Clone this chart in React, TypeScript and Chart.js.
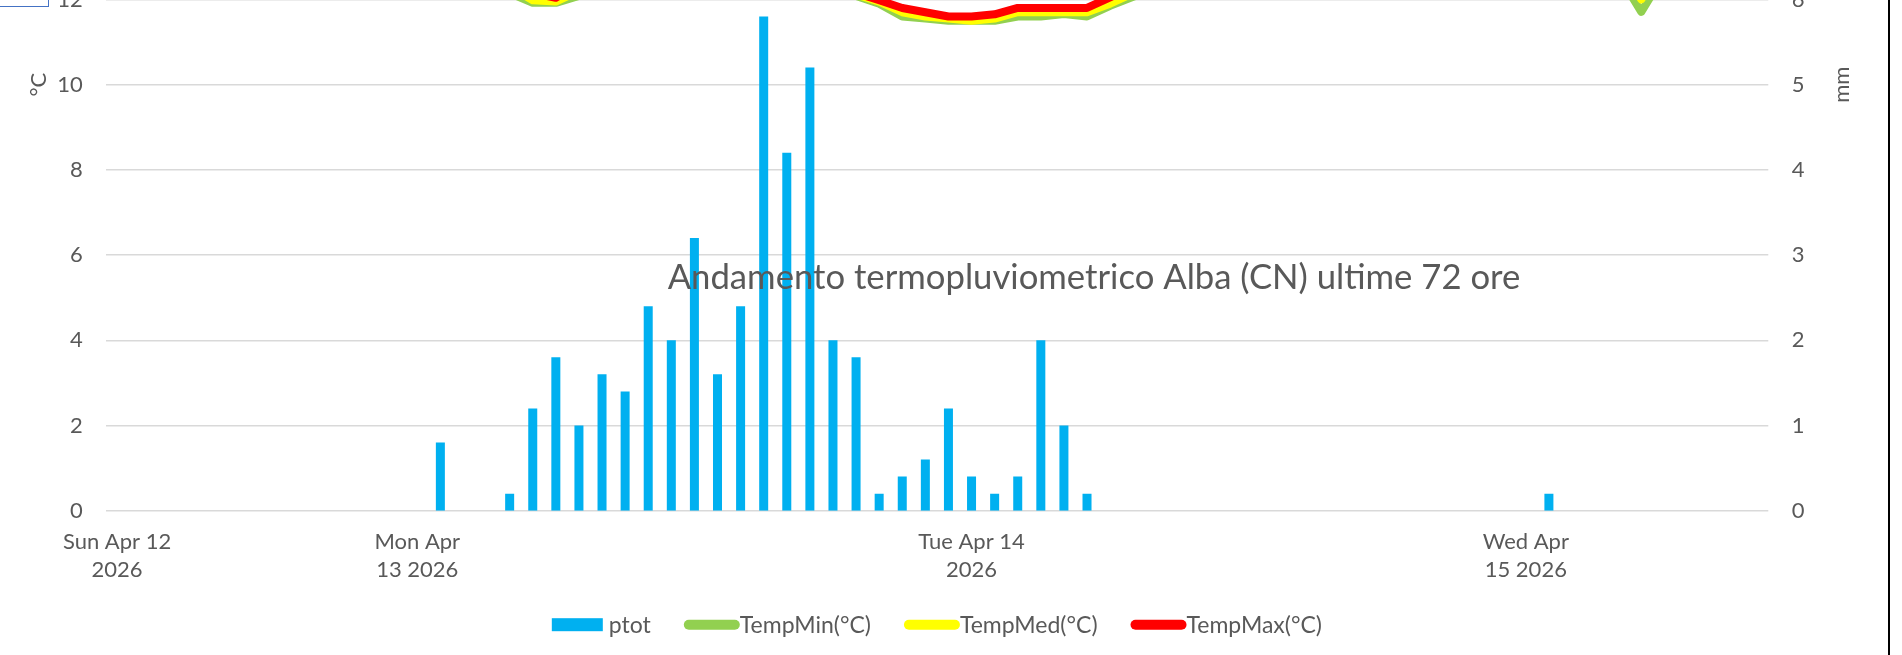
import React, { useEffect, useRef } from 'react';
import { Chart, registerables } from 'chart.js';

Chart.register(...registerables);

// ---------- DATA ----------
const categories: string[] = [
  '12/04 11:00', '12/04 12:00', '12/04 13:00', '12/04 14:00', '12/04 15:00', '12/04 16:00', '12/04 17:00',
  '12/04 18:00', '12/04 19:00', '12/04 20:00', '12/04 21:00', '12/04 22:00', '12/04 23:00',
  '13/04 00:00', '13/04 01:00', '13/04 02:00', '13/04 03:00', '13/04 04:00', '13/04 05:00', '13/04 06:00',
  '13/04 07:00', '13/04 08:00', '13/04 09:00', '13/04 10:00', '13/04 11:00', '13/04 12:00', '13/04 13:00',
  '13/04 14:00', '13/04 15:00', '13/04 16:00', '13/04 17:00', '13/04 18:00', '13/04 19:00', '13/04 20:00',
  '13/04 21:00', '13/04 22:00', '13/04 23:00',
  '14/04 00:00', '14/04 01:00', '14/04 02:00', '14/04 03:00', '14/04 04:00', '14/04 05:00', '14/04 06:00',
  '14/04 07:00', '14/04 08:00', '14/04 09:00', '14/04 10:00', '14/04 11:00', '14/04 12:00', '14/04 13:00',
  '14/04 14:00', '14/04 15:00', '14/04 16:00', '14/04 17:00', '14/04 18:00', '14/04 19:00', '14/04 20:00',
  '14/04 21:00', '14/04 22:00', '14/04 23:00',
  '15/04 00:00', '15/04 01:00', '15/04 02:00', '15/04 03:00', '15/04 04:00', '15/04 05:00', '15/04 06:00',
  '15/04 07:00', '15/04 08:00', '15/04 09:00', '15/04 10:00',
];

// Tick labels shown on the x axis, and the category where each one sits
const dayLabelAt: string[] = ['12/04 11:00', '13/04 00:00', '14/04 00:00', '15/04 00:00'];
const dayLabels: string[][] = [
  ['Sun Apr 12', '2026'],
  ['Mon Apr', '13 2026'],
  ['Tue Apr 14', '2026'],
  ['Wed Apr', '15 2026'],
];

// Precipitation (mm)
const ptot: number[] = [
  0, 0, 0, 0, 0, 0, 0, 0, 0, 0, 0, 0, 0,
  0, 0.8, 0, 0, 0.2, 1.2, 1.8, 1.0, 1.6, 1.4, 2.4, 2.0, 3.2, 1.6,
  2.4, 5.8, 4.2, 5.2, 2.0, 1.8, 0.2, 0.4, 0.6, 1.2,
  0.4, 0.2, 0.4, 2.0, 1.0, 0.2, 0, 0, 0, 0, 0, 0, 0, 0,
  0, 0, 0, 0, 0, 0, 0, 0, 0, 0,
  0, 0.2, 0, 0, 0, 0, 0, 0, 0, 0, 0,
];

// Temperatures (°C)
const tempMin: number[] = [
  15.8, 16.6, 17.2, 17.6, 17.8, 17.5, 16.9, 16.0, 15.1, 14.4, 13.9, 13.5, 13.2,
  13.0, 12.8, 12.6, 12.4, 12.15, 11.92, 11.92, 12.08, 12.6, 12.9, 13.1, 13.3, 13.4, 13.5,
  13.4, 13.3, 13.1, 12.9, 12.6, 12.08, 11.9, 11.6, 11.55, 11.5,
  11.5, 11.5, 11.6, 11.6, 11.66, 11.6, 11.85, 12.06, 12.7, 13.5, 14.4, 15.3, 16.1, 16.8,
  17.2, 17.4, 17.2, 16.6, 15.7, 14.8, 14.1, 13.6, 13.3, 13.1,
  12.9, 12.8, 12.8, 12.9, 12.6, 11.71, 12.6, 13.3, 14.2, 15.2, 16.1,
];
const tempMed: number[] = [
  16.2, 17.0, 17.6, 18.0, 18.1, 17.8, 17.2, 16.4, 15.5, 14.7, 14.1, 13.7, 13.4,
  13.1, 12.9, 12.7, 12.5, 12.3, 11.98, 11.95, 12.2, 12.7, 13.0, 13.2, 13.4, 13.5, 13.6,
  13.5, 13.4, 13.2, 13.0, 12.7, 12.12, 11.95, 11.7, 11.6, 11.55,
  11.5, 11.55, 11.7, 11.7, 11.7, 11.7, 11.9, 12.15, 12.9, 13.8, 14.8, 15.7, 16.5, 17.2,
  17.6, 17.8, 17.5, 16.9, 16.0, 15.1, 14.4, 13.9, 13.5, 13.3,
  13.1, 13.0, 13.0, 13.1, 12.9, 12.0, 12.9, 13.6, 14.5, 15.5, 16.4,
];
const tempMax: number[] = [
  16.6, 17.4, 18.0, 18.4, 18.5, 18.2, 17.6, 16.8, 15.9, 15.0, 14.4, 14.0, 13.6,
  13.3, 13.1, 12.9, 12.7, 12.45, 12.15, 12.04, 12.35, 12.8, 13.1, 13.3, 13.5, 13.6, 13.7,
  13.6, 13.5, 13.3, 13.1, 12.8, 12.15, 11.98, 11.8, 11.7, 11.6,
  11.6, 11.65, 11.8, 11.8, 11.8, 11.8, 12.05, 12.3, 13.1, 14.1, 15.2, 16.1, 16.9, 17.6,
  18.0, 18.2, 17.9, 17.3, 16.4, 15.5, 14.7, 14.2, 13.8, 13.5,
  13.3, 13.2, 13.2, 13.3, 13.2, 12.3, 13.2, 13.9, 14.8, 15.8, 16.7,
];

const seriesNames: string[] = ['ptot', 'TempMin(°C)', 'TempMed(°C)', 'TempMax(°C)'];
const seriesColors: string[] = ['#00B0F0', '#92D050', '#FFFF00', '#FF0000'];
const chartTitle = 'Andamento termopluviometrico Alba (CN) ultime 72 ore';
const leftAxisTitle = '°C';
const rightAxisTitle = 'mm';

// ---------- STYLE ----------
const TEXT = '#595959';
const GRID = '#D9D9D9';
const FONT = 'Lato';

const overlayPlugin = {
  id: 'overlay',
  afterDraw(chart: any) {
    const { ctx, chartArea: ca, scales } = chart;
    ctx.save();
    ctx.fillStyle = TEXT;
    const yMid = (scales.y.top + scales.y.bottom) / 2;

    // Axis titles (rotated, reading bottom to top)
    ctx.font = `22px ${FONT}`;
    ctx.textAlign = 'center';
    ctx.textBaseline = 'middle';
    ctx.save();
    ctx.translate(ca.left - 67, yMid);
    ctx.rotate(-Math.PI / 2);
    ctx.fillText(leftAxisTitle, 0, 0);
    ctx.restore();
    ctx.save();
    ctx.translate(ca.right + 73.4, yMid);
    ctx.rotate(-Math.PI / 2);
    ctx.fillText(rightAxisTitle, 0, 0);
    ctx.restore();

    // Chart title (placed inside the plot as in the reference)
    ctx.font = `34.7px ${FONT}`;
    ctx.textAlign = 'center';
    ctx.textBaseline = 'alphabetic';
    ctx.fillText(chartTitle, ca.left + 988.5, ca.top + 630.3);

    // Legend
    ctx.font = `23px ${FONT}`;
    const boxW = 51;
    const lineW = 56;
    const itemGap = 33;
    const markW = (i: number) => (i === 0 ? boxW : lineW);
    const textGap = (i: number) => (i === 0 ? 6 : 0);
    const widths = seriesNames.map((n, i) => markW(i) + textGap(i) + ctx.measureText(n).width);
    const total = widths.reduce((a, b) => a + b, 0) + itemGap * (widths.length - 1);
    let x = (ca.left + ca.right) / 2 - total / 2;
    const ly = ca.bottom + 114;
    ctx.textAlign = 'left';
    ctx.textBaseline = 'middle';
    seriesNames.forEach((name, i) => {
      if (i === 0) {
        ctx.fillStyle = seriesColors[i];
        ctx.fillRect(x, ly - 6.5, boxW, 13);
      } else {
        ctx.strokeStyle = seriesColors[i];
        ctx.lineWidth = 10;
        ctx.lineCap = 'round';
        ctx.beginPath();
        ctx.moveTo(x + 5, ly);
        ctx.lineTo(x + lineW - 5, ly);
        ctx.stroke();
      }
      ctx.fillStyle = TEXT;
      ctx.fillText(name, x + markW(i) + textGap(i), ly + 1);
      x += widths[i] + itemGap;
    });
    ctx.restore();
  },
};

const CANVAS_W = 1902;
const CANVAS_H = 1033;
const CANVAS_TOP = -378;

export default function App() {
  const ref = useRef<HTMLCanvasElement | null>(null);

  useEffect(() => {
    if (!ref.current) return;
    const lineDs = (i: number, data: number[], order: number) => ({
      type: 'line' as const,
      label: seriesNames[i],
      data,
      yAxisID: 'y',
      borderColor: seriesColors[i],
      backgroundColor: seriesColors[i],
      borderWidth: 8,
      borderJoinStyle: 'round' as const,
      borderCapStyle: 'round' as const,
      pointRadius: 0,
      tension: 0,
      order,
    });
    const chart = new Chart(ref.current, {
      type: 'bar',
      data: {
        labels: categories,
        datasets: [
          {
            type: 'bar',
            label: seriesNames[0],
            data: ptot,
            yAxisID: 'y1',
            backgroundColor: seriesColors[0],
            borderWidth: 0,
            categoryPercentage: 1,
            barPercentage: 0.39,
            order: 4,
          } as any,
          lineDs(1, tempMin, 3),
          lineDs(2, tempMed, 2),
          lineDs(3, tempMax, 1),
        ],
      },
      options: {
        responsive: false,
        animation: false,
        layout: { padding: { top: 5, left: 0, right: 0, bottom: 0 } },
        plugins: {
          legend: { display: false },
          title: { display: false },
          tooltip: { enabled: false },
        },
        scales: {
          x: {
            type: 'category',
            offset: true,
            grid: { display: false, drawTicks: false },
            border: { display: false },
            ticks: {
              autoSkip: false,
              maxRotation: 0,
              minRotation: 0,
              padding: 17,
              color: TEXT,
              font: { family: FONT, size: 22, lineHeight: 1.286 },
              callback: (_v: any, idx: number) => {
                const k = dayLabelAt.indexOf(categories[idx]);
                return k >= 0 ? dayLabels[k] : '';
              },
            },
            afterFit: (s: any) => {
              s.height = 144.3;
            },
          },
          y: {
            position: 'left',
            min: 0,
            max: 20,
            grid: { color: GRID, lineWidth: 1.5, drawTicks: false },
            border: { display: false },
            ticks: {
              stepSize: 2,
              padding: 22.8,
              color: TEXT,
              font: { family: FONT, size: 22 },
            },
            afterFit: (s: any) => {
              s.width = 105.5;
            },
          },
          y1: {
            position: 'right',
            min: 0,
            max: 10,
            grid: { display: false, drawTicks: false },
            border: { display: false },
            ticks: {
              stepSize: 1,
              padding: 23.4,
              color: TEXT,
              font: { family: FONT, size: 22 },
            },
            afterFit: (s: any) => {
              s.width = 133.7;
            },
          },
        },
      } as any,
      plugins: [overlayPlugin],
    });
    return () => chart.destroy();
  }, []);

  return (
    <div
      style={{
        position: 'fixed',
        left: 0,
        top: 0,
        width: 1902,
        height: 655,
        overflow: 'hidden',
        background: '#fff',
      }}
    >
      <div style={{ position: 'absolute', left: 0, top: CANVAS_TOP, width: CANVAS_W, height: CANVAS_H }}>
        <canvas
          ref={ref}
          width={CANVAS_W}
          height={CANVAS_H}
          style={{ width: CANVAS_W, height: CANVAS_H, display: 'block' }}
        />
      </div>
      <div
        style={{
          position: 'absolute',
          left: -2,
          top: -20,
          width: 51,
          height: 27,
          border: '1px solid #4472C4',
          boxSizing: 'border-box',
        }}
      />
      <div style={{ position: 'absolute', left: 1888, top: 0, width: 2, height: 655, background: '#000' }} />
    </div>
  );
}
